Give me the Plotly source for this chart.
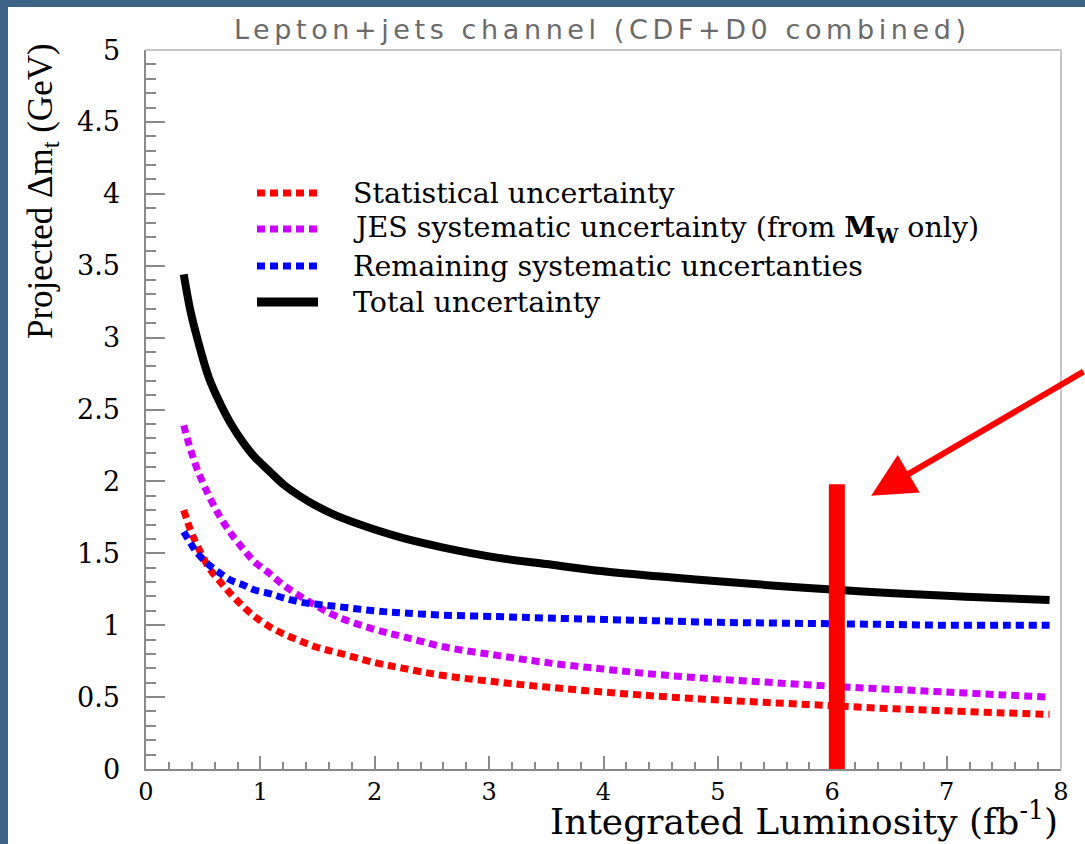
import plotly.graph_objects as go

# Integrated luminosity (fb^-1) at which the projections are sampled
lumi = [0.33, 0.39, 0.45, 0.55, 0.65, 0.75, 0.85, 0.95, 1.08, 1.2, 1.35, 1.5, 1.67,
        2.0, 2.25, 2.6, 3.07, 3.5, 4.0, 4.5, 5.0, 5.5, 6.0, 6.5, 7.0, 7.5, 7.9]

# Projected top-mass uncertainties (GeV)
stat_unc = [1.80, 1.66, 1.55, 1.40, 1.30, 1.21, 1.13, 1.06, 0.99, 0.94, 0.89, 0.845, 0.81,
            0.74, 0.70, 0.65, 0.605, 0.57, 0.535, 0.505, 0.48, 0.46, 0.44, 0.42, 0.405,
            0.39, 0.38]
jes_unc = [2.39, 2.22, 2.08, 1.90, 1.75, 1.63, 1.53, 1.44, 1.36, 1.28, 1.20, 1.13, 1.06,
           0.97, 0.92, 0.85, 0.79, 0.74, 0.695, 0.655, 0.625, 0.60, 0.575, 0.555, 0.535,
           0.515, 0.50]
rem_unc = [1.65, 1.57, 1.50, 1.42, 1.36, 1.31, 1.28, 1.245, 1.22, 1.19, 1.16, 1.145, 1.13,
           1.10, 1.085, 1.07, 1.06, 1.05, 1.04, 1.03, 1.02, 1.015, 1.01, 1.005, 1.0,
           1.0, 1.0]
total_unc = [3.44, 3.18, 2.99, 2.72, 2.54, 2.39, 2.27, 2.17, 2.07, 1.98, 1.895, 1.825, 1.76,
             1.665, 1.605, 1.54, 1.47, 1.425, 1.375, 1.338, 1.305, 1.275, 1.248, 1.224,
             1.204, 1.188, 1.175]

series_names = [
    "Statistical uncertainty",
    "JES systematic uncertainty (from <b>M</b><sub><b>W</b></sub> only)",
    "Remaining systematic uncertanties",
    "Total uncertainty",
]

# Highlighted luminosity marker
marker_lumi = 6.04
marker_top = 1.98

x_ticks = [0, 1, 2, 3, 4, 5, 6, 7, 8]
y_ticks = [0, 0.5, 1, 1.5, 2, 2.5, 3, 3.5, 4, 4.5, 5]

# ---- geometry / style ----
W, H = 1085, 844
L_M, R_M, T_M, B_M = 146, 24, 50, 75
PW = W - L_M - R_M
PH = H - T_M - B_M


def px(xp):
    return (xp - L_M) / PW


def py(yp):
    return (H - B_M - yp) / PH


SERIF = "DejaVu Serif"
DOT = "8px,5px"
TICK_GRAY = "#8a8a8a"
styles = [
    dict(color="#ff0000", width=7, dash=DOT),
    dict(color="#cc00ff", width=7, dash=DOT),
    dict(color="#0000ff", width=7, dash=DOT),
    dict(color="#000000", width=8, dash="solid"),
]

fig = go.Figure()
for ys, st, nm in zip([stat_unc, jes_unc, rem_unc, total_unc], styles, series_names):
    fig.add_trace(go.Scatter(
        x=lumi, y=ys, mode="lines", name=nm,
        line=dict(color=st["color"], width=st["width"], dash=st["dash"],
                  shape="spline", smoothing=1.0),
        showlegend=False, hoverinfo="skip"))

shapes = []
# white panel behind the chart
shapes.append(dict(type="rect", xref="paper", yref="paper", layer="below",
                   x0=px(8), x1=px(1100), y0=py(870), y1=py(7),
                   fillcolor="white", line=dict(width=0)))
# light frame on top and right
shapes.append(dict(type="line", xref="paper", yref="paper", x0=0, x1=1, y0=1, y1=1,
                   line=dict(color="#c6c6c6", width=2)))
shapes.append(dict(type="line", xref="paper", yref="paper", x0=1, x1=1, y0=0, y1=1,
                   line=dict(color="#c6c6c6", width=2)))
# highlighted luminosity bar
shapes.append(dict(type="line", xref="x", yref="y", x0=marker_lumi, x1=marker_lumi,
                   y0=0, y1=marker_top, line=dict(color="#ff0000", width=16)))

annotations = []
# legend
legend_rows = [193, 229, 266, 302]
for row, st, nm in zip(legend_rows, styles, series_names):
    shapes.append(dict(type="line", xref="paper", yref="paper",
                       x0=px(257), x1=px(318), y0=py(row), y1=py(row),
                       line=dict(color=st["color"], width=st["width"] + (1 if st["dash"] == "solid" else 0),
                                 dash=st["dash"])))
    annotations.append(dict(xref="paper", yref="paper", x=px(351), y=py(row),
                            xanchor="left", yanchor="middle", showarrow=False,
                            text=nm, font=dict(family=SERIF, size=28.5, color="black")))

# y tick labels, set a little away from the frame
for v in y_ticks:
    annotations.append(dict(xref="paper", yref="y", x=px(122), y=v,
                            xanchor="right", yanchor="middle", showarrow=False,
                            text=f"{v:g}", font=dict(family=SERIF, size=27, color="black")))

# title
annotations.append(dict(xref="paper", yref="paper", x=px(602), y=py(30),
                        xanchor="center", yanchor="middle", showarrow=False,
                        text="Lepton+jets channel (CDF+D0 combined)",
                        font=dict(family="DejaVu Sans", size=27, color="#6a6a6a")))
# axis titles
annotations.append(dict(xref="paper", yref="paper", x=px(43), y=py(191),
                        xanchor="center", yanchor="middle", showarrow=False, textangle=-90,
                        text="Projected Δm<sub>t</sub> (GeV)",
                        font=dict(family="Liberation Serif", size=35, color="black")))
annotations.append(dict(xref="paper", yref="paper", x=px(1060), y=py(819),
                        xanchor="right", yanchor="middle", showarrow=False,
                        text="Integrated Luminosity (fb<sup>-1</sup>)",
                        font=dict(family=SERIF, size=36, color="black")))
# pointer arrow
annotations.append(dict(xref="x", yref="y", x=6.34, y=1.90, text="",
                        showarrow=True, arrowhead=2, arrowwidth=6, arrowsize=1.45,
                        arrowcolor="#ff0000", ax=240, ay=-125, axref="pixel", ayref="pixel"))

fig.update_layout(
    width=W, height=H,
    margin=dict(l=L_M, r=R_M, t=T_M, b=B_M),
    paper_bgcolor="#3f6386",
    plot_bgcolor="white",
    shapes=shapes,
    annotations=annotations,
    xaxis=dict(range=[0, 8], tickvals=x_ticks,
               ticks="inside", ticklen=13, tickcolor=TICK_GRAY, tickwidth=1.5,
               showline=True, linecolor=TICK_GRAY, linewidth=2,
               showgrid=False, zeroline=False,
               tickfont=dict(family=SERIF, size=24, color="black"),
               minor=dict(dtick=0.2, ticklen=7, ticks="inside", tickcolor=TICK_GRAY,
                          tickwidth=1.5)),
    yaxis=dict(range=[0, 5], tickvals=y_ticks, showticklabels=False,
               ticks="inside", ticklen=19, tickcolor=TICK_GRAY, tickwidth=1.5,
               showline=True, linecolor=TICK_GRAY, linewidth=2,
               showgrid=False, zeroline=False,
               minor=dict(dtick=0.1, ticklen=10, ticks="inside", tickcolor=TICK_GRAY,
                          tickwidth=1.5)),
)

post = """
document.querySelectorAll('.annotation-text').forEach(function(t){
  if (t.textContent.indexOf('Lepton') === 0) { t.style.letterSpacing = '4.6px'; }
});
"""
fig.write_html("out.html", post_script=post)
